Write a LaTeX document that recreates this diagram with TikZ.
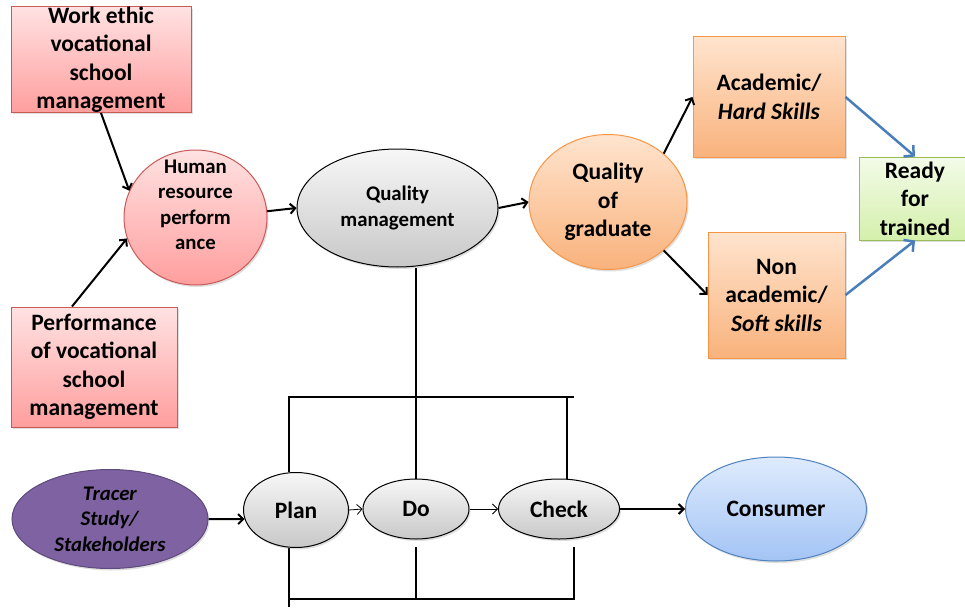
\documentclass[tikz,border=0pt]{standalone}
\usepackage{fontspec}
\setmainfont{Carlito}
\usetikzlibrary{arrows.meta,shapes.geometric,shadows,calc,backgrounds}
\definecolor{pinktop}{RGB}{255,226,226}
\definecolor{pinkbot}{RGB}{255,158,158}
\definecolor{pinkline}{RGB}{200,90,88}
\definecolor{graytop}{RGB}{247,247,247}
\definecolor{graybot}{RGB}{200,200,200}
\definecolor{orangetop}{RGB}{255,228,206}
\definecolor{orangebot}{RGB}{249,178,124}
\definecolor{orangeline}{RGB}{247,150,70}
\definecolor{greentop}{RGB}{243,251,232}
\definecolor{greenbot}{RGB}{212,240,172}
\definecolor{greenline}{RGB}{155,187,89}
\definecolor{bluetop}{RGB}{222,235,253}
\definecolor{bluebot}{RGB}{163,196,245}
\definecolor{blueline}{RGB}{79,129,189}
\definecolor{purplefill}{RGB}{127,98,161}
\definecolor{purpleline}{RGB}{94,74,124}
\definecolor{arrowblue}{RGB}{74,126,187}
\begin{document}
\begin{tikzpicture}[x=1pt,y=-1pt,
  big/.style={font=\bfseries\fontsize{23.5}{28.5}\selectfont},
  small/.style={font=\bfseries\fontsize{20.8}{25.5}\selectfont},
  shad/.style={drop shadow={opacity=0.25,shadow xshift=1.5pt,shadow yshift=-2pt}},
  base/.style={inner sep=0pt,align=center,line width=1pt,shad},
  pinkbox/.style={base,rectangle,draw=pinkline,top color=pinktop,bottom color=pinkbot},
  pinkcirc/.style={base,ellipse,draw=pinkline,top color=pinktop,bottom color=pinkbot},
  grayell/.style={base,ellipse,draw=black,top color=graytop,bottom color=graybot},
  orangeell/.style={base,ellipse,draw=orangeline,top color=orangetop,bottom color=orangebot},
  orangebox/.style={base,rectangle,draw=orangeline,top color=orangetop,bottom color=orangebot},
  greenbox/.style={base,rectangle,draw=greenline,top color=greentop,bottom color=greenbot},
  blueell/.style={base,ellipse,draw=blueline,top color=bluetop,bottom color=bluebot},
  purpleell/.style={base,ellipse,draw=purpleline,fill=purplefill},
  thickarrow/.style={line width=2pt,-{Straight Barb[length=5pt,width=10pt]}},
  thinarrow/.style={line width=0.8pt,-{Straight Barb[length=5pt,width=10pt]}},
  bluearrow/.style={line width=2.5pt,draw=arrowblue,-{Straight Barb[length=7pt,width=15pt]}},
  pdca/.style={line width=2.5pt}]
\useasboundingbox (0,0) rectangle (965,607);

\node[pinkbox,big,minimum width=180pt,minimum height=105pt] (work) at (101,59.5) {Work ethic\\vocational\\school\\management};
\node[pinkbox,big,minimum width=166pt,minimum height=120pt] (perf) at (94,367) {Performance\\of vocational\\school\\management};
\node[pinkcirc,minimum width=143pt,minimum height=135pt] (hr) at (195.5,217.5) {};
\node[small,align=center] (hrtext) at (195.5,205) {Human\\resource\\perform\\ance};
\node[grayell,small,minimum width=201pt,minimum height=118pt] (qm) at (397.5,208) {Quality\\management};
\node[orangeell,big,minimum width=158pt,minimum height=135pt] (qg) at (608,202) {Quality\\of\\graduate};
\node[orangebox,big,minimum width=152pt,minimum height=120pt] (acad) at (769,97) {Academic/\\\textit{Hard Skills}};
\node[orangebox,big,minimum width=137pt,minimum height=126pt] (nonacad) at (776.5,295) {Non\\academic/\\\textit{Soft skills}};
\node[greenbox,big,minimum width=112pt,minimum height=83pt] (ready) at (915,198.5) {Ready\\for\\trained};
\node[purpleell,small,minimum width=196pt,minimum height=99pt] (tracer) at (110,519) {\textit{Tracer}\\\textit{Study/}\\\textit{Stakeholders}};
\node[grayell,big,minimum width=105pt,minimum height=75pt] (plan) at (296,510) {Plan};
\node[grayell,big,minimum width=106pt,minimum height=60pt] (do) at (416,509) {Do};
\node[grayell,big,minimum width=121pt,minimum height=60pt] (check) at (559,509) {Check};
\node[blueell,big,minimum width=181pt,minimum height=104pt] (consumer) at (776,509) {Consumer};

\coordinate (tl) at (289,397);
\coordinate (tr) at (574,397);
\coordinate (ct) at (567,397);
\coordinate (bl) at (289,599);
\coordinate (br) at (574,599);
\coordinate (bend) at (289,607);
\coordinate (brt) at (574,547);
\coordinate (dbt) at (416,547);

\begin{pgfonlayer}{background}
\draw[pdca] (do.north) -- (do.north |- qm.south);
\draw[pdca] (plan.north -| tl) -- (tl) -- (tr);
\draw[pdca] (check.north -| ct) -- (ct);
\draw[pdca] (plan.south -| bl) -- (bend);
\draw[pdca] (bl) -- (br) -- (brt);
\draw[pdca] (dbt) -- (dbt |- bl);
\end{pgfonlayer}

\draw[thickarrow] (work.south) -- (hr.158);
\draw[thickarrow] ($(perf.north)+(-22,0)$) -- (hr.197);
\draw[thickarrow] (hr.5) -- (qm.west);
\draw[thickarrow] (qm.east) -- (qg.west);
\draw[thickarrow] (qg.41) -- (acad.west);
\draw[thickarrow] (qg.-41) -- (nonacad.west);
\draw[bluearrow] (acad.east) -- (ready.north);
\draw[bluearrow] (nonacad.east) -- (ready.south);
\draw[thickarrow] (tracer.east) -- (plan.190);
\draw[thinarrow] (plan.east) -- (do.west);
\draw[thinarrow] (do.east) -- (check.west);
\draw[thickarrow] (check.east) -- (consumer.west);
\end{tikzpicture}
\end{document}
